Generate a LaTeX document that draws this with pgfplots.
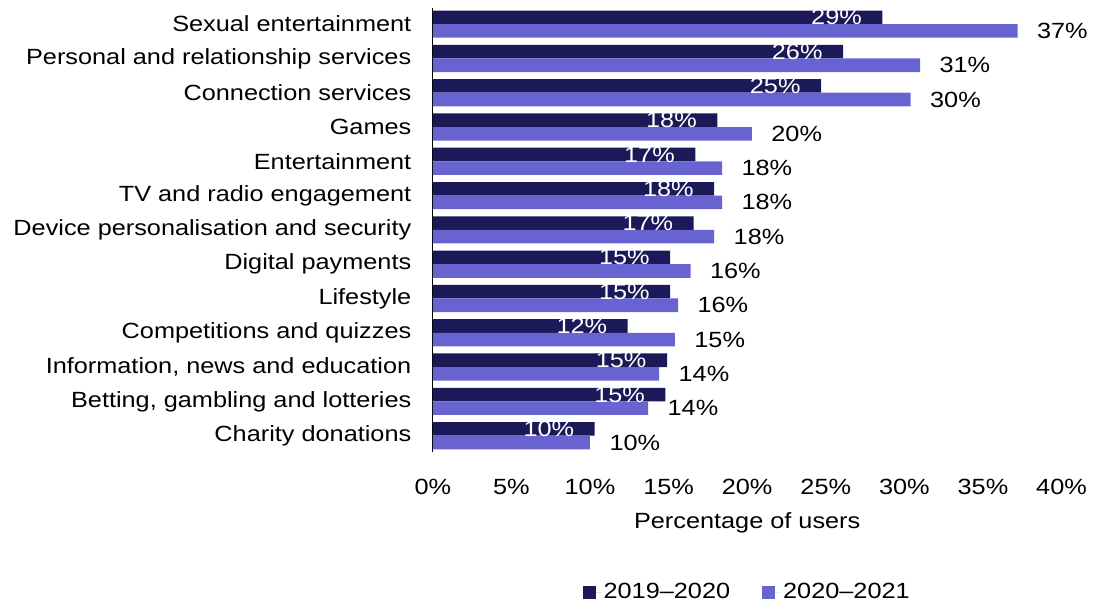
\documentclass[border=0pt]{standalone}
\usepackage{pgfplots}
\pgfplotsset{compat=1.18}
\usepackage{pgfplotstable}
\usepackage{fontspec}
\setmainfont[FakeStretch=1.15]{Liberation Sans}
\definecolor{dark}{HTML}{1B1958}
\definecolor{lav}{HTML}{6764D2}
\pgfplotstableread{
y a b
12 28.6 37.2
11 26.1 31.0
10 24.7 30.4
9 18.1 20.3
8 16.7 18.4
7 17.9 18.4
6 16.6 17.9
5 15.1 16.4
4 15.1 15.6
3 12.4 15.4
2 14.9 14.4
1 14.8 13.7
0 10.3 10.0
}\data
\begin{document}
\fontsize{22}{26}\selectfont
\begin{tikzpicture}
\begin{axis}[
  at={(0pt,0pt)}, anchor=south west,
  scale only axis, width=629pt, height=444pt,
  xbar, bar width=13.6pt,
  xmin=0, xmax=40, ymin=-0.47, ymax=12.47,
  xtick={0,5,...,40}, ytick={0,...,12},
  yticklabels={Charity donations,{Betting, gambling and lotteries},{Information, news and education},Competitions and quizzes,Lifestyle,Digital payments,Device personalisation and security,TV and radio engagement,Entertainment,Games,Connection services,Personal and relationship services,Sexual entertainment},
  /pgf/number format/assume math mode=true,
  xticklabel={\pgfmathprintnumber{\tick}\%},
  major tick length=0,
  axis lines*=left,
  x axis line style={draw=none},
  y axis line style={black, line width=0.8pt},
  xticklabel style={anchor=center, yshift=-35pt},
  yticklabel style={anchor=east, xshift=-14pt},
  xlabel={Percentage of users},
  every axis x label/.style={at={(axis description cs:0.5,-0.16)}, anchor=center},
  legend style={at={(axis description cs:0.5,-0.316)}, anchor=center, draw=none, legend columns=2,
    /tikz/every even column/.append style={column sep=30pt}},
  legend image code/.code={\fill[#1] (0pt,-6.5pt) rectangle (13pt,6.5pt); \path (0pt,0pt) -- (19pt,0pt);},
  point meta=x,
  nodes near coords={\pgfmathprintnumber[fixed,precision=0]{\pgfplotspointmeta}\%},
]
\addplot[fill=dark, draw=none, bar shift=6.8pt,
  every node near coord/.append style={anchor=east, xshift=-13pt, text=white}]
  table[x=a, y=y] {\data};
\addplot[fill=lav, draw=none, bar shift=-6.8pt,
  every node near coord/.append style={anchor=west, xshift=12pt, text=black}]
  table[x=b, y=y] {\data};
\legend{2019–2020, 2020–2021}
\end{axis}
\path (-433pt,-153pt) rectangle (662pt,452pt);
\end{tikzpicture}
\end{document}
